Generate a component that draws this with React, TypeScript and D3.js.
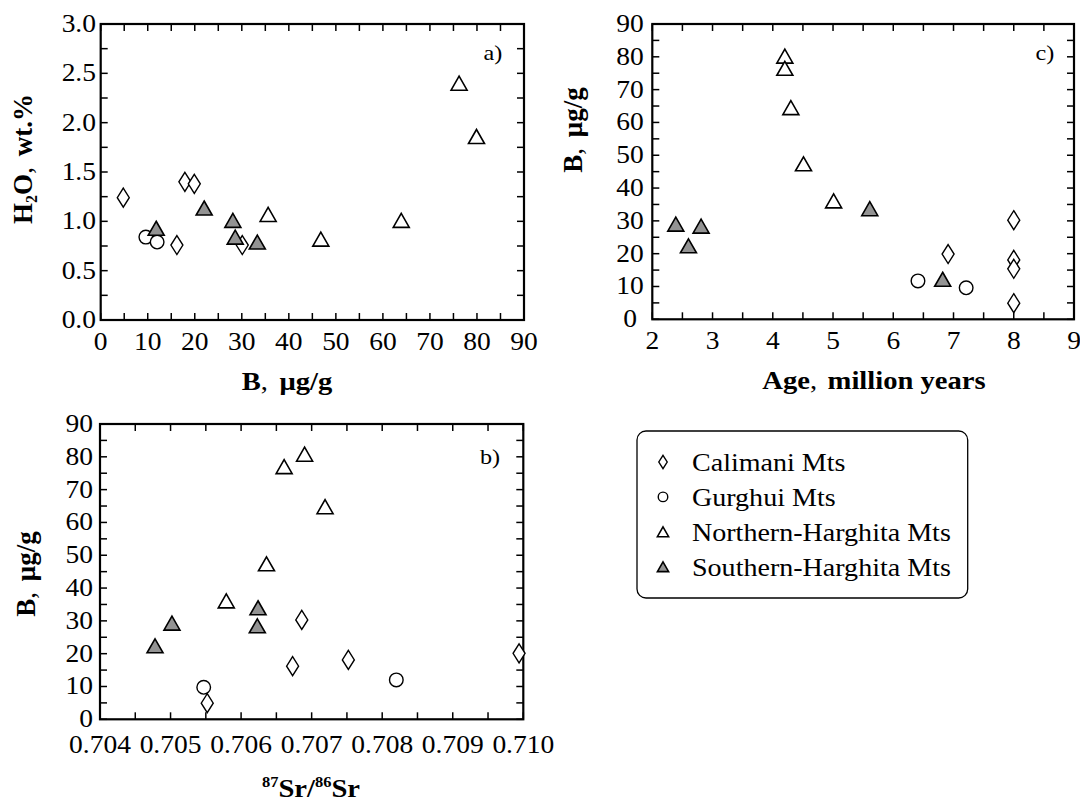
import React from 'react';
import * as d3 from 'd3';

type P = [number, number];

// Panel a) B (µg/g) vs H2O (wt.%)
const aCalimani: P[] = [[4.8, 1.24], [17.9, 1.40], [19.9, 1.38], [16.2, 0.76], [30.1, 0.76]];
const aGurghui: P[] = [[9.6, 0.84], [12.0, 0.79]];
const aNorthern: P[] = [[35.6, 1.07], [46.8, 0.82], [63.9, 1.01], [76.2, 2.40], [79.9, 1.86]];
const aSouthern: P[] = [[11.8, 0.93], [22.0, 1.135], [28.1, 1.01], [28.6, 0.84], [33.3, 0.79]];

// Panel c) Age (million years) vs B (µg/g)
const cCalimani: P[] = [[6.91, 19.9], [8.0, 30.2], [8.0, 18.1], [8.0, 15.4], [8.0, 4.9]];
const cGurghui: P[] = [[6.41, 11.7], [7.21, 9.6]];
const cNorthern: P[] = [[4.2, 80.2], [4.2, 76.5], [4.3, 64.5], [4.51, 47.4], [5.01, 36.1]];
const cSouthern: P[] = [[2.39, 29.0], [2.6, 22.4], [2.81, 28.4], [5.61, 33.7], [6.82, 12.2]];

// Panel b) 87Sr/86Sr vs B (µg/g)
const bCalimani: P[] = [[0.70552, 4.9], [0.70673, 16.2], [0.70686, 30.3], [0.70752, 18.1], [0.70994, 20.1]];
const bGurghui: P[] = [[0.70547, 9.75], [0.7082, 12.0]];
const bNorthern: P[] = [[0.70579, 36.1], [0.70636, 47.4], [0.70661, 77.0], [0.7069, 80.8], [0.70719, 64.8]];
const bSouthern: P[] = [[0.70478, 22.4], [0.70502, 29.3], [0.70624, 34.0], [0.70623, 28.5]];

const legendLabels = ['Calimani Mts', 'Gurghui Mts', 'Northern-Harghita Mts', 'Southern-Harghita Mts'];
const legendKinds = ['diamond', 'circle', 'triangle', 'triangleFilled'];

const FONT = "'Liberation Serif', 'DejaVu Serif', serif";
const SX = 1.1;
const FILL_GRAY = '#939393';

function Marker({ kind, x, y, s = 1 }: { kind: string; x: number; y: number; s?: number }) {
  if (kind === 'diamond') {
    const w = 6 * s, h = 9.5 * s;
    return <path d={`M${x},${y - h}L${x + w},${y}L${x},${y + h}L${x - w},${y}Z`} fill="white" stroke="black" strokeWidth={1.4} />;
  }
  if (kind === 'circle') {
    return <circle cx={x} cy={y} r={6.8 * s} fill="white" stroke="black" strokeWidth={1.4} />;
  }
  const w = 8 * s, h = 7 * s;
  return (
    <path
      d={`M${x},${y - h}L${x + w},${y + h}L${x - w},${y + h}Z`}
      fill={kind === 'triangleFilled' ? FILL_GRAY : 'white'}
      stroke="black"
      strokeWidth={1.6}
      strokeLinejoin="miter"
    />
  );
}

function T({ x, y, anchor = 'middle', size = 25, weight = 'normal', children }: any) {
  return (
    <text
      transform={`translate(${x},${y}) scale(${SX},1)`}
      textAnchor={anchor}
      style={{ fontFamily: FONT, fontSize: size, fontWeight: weight }}
      fill="black"
    >
      {children}
    </text>
  );
}

function range(a: number, b: number, step: number) {
  const n = Math.round((b - a) / step);
  return d3.range(n + 1).map((i) => a + i * step);
}

interface PanelProps {
  x0: number; x1: number; yTop: number; yBot: number;
  xDomain: [number, number]; yDomain: [number, number];
  xMinor: number; xMajor: number; yMinor: number; yMajor: number;
  xFmt: (v: number) => string; yFmt: (v: number) => string;
  xLabelY: number; yLabelX: number; yLabelAnchor: string;
  series: [string, P[]][];
  tag: string; tagX: number; tagY: number;
}

function Panel(p: PanelProps) {
  const xs = d3.scaleLinear().domain(p.xDomain).range([p.x0, p.x1]);
  const ys = d3.scaleLinear().domain(p.yDomain).range([p.yBot, p.yTop]);
  const xMinorTicks = range(p.xDomain[0], p.xDomain[1], p.xMinor);
  const yMinorTicks = range(p.yDomain[0], p.yDomain[1], p.yMinor);
  const xMajorTicks = range(p.xDomain[0], p.xDomain[1], p.xMajor);
  const yMajorTicks = range(p.yDomain[0], p.yDomain[1], p.yMajor);
  const TL = 7;
  return (
    <g>
      {xMinorTicks.map((v, i) => (
        <g key={'xt' + i}>
          <line x1={xs(v)} x2={xs(v)} y1={p.yBot} y2={p.yBot - TL} stroke="black" strokeWidth={1.5} />
          <line x1={xs(v)} x2={xs(v)} y1={p.yTop} y2={p.yTop + TL} stroke="black" strokeWidth={1.5} />
        </g>
      ))}
      {yMinorTicks.map((v, i) => (
        <g key={'yt' + i}>
          <line x1={p.x0} x2={p.x0 + TL} y1={ys(v)} y2={ys(v)} stroke="black" strokeWidth={1.5} />
          <line x1={p.x1} x2={p.x1 - TL} y1={ys(v)} y2={ys(v)} stroke="black" strokeWidth={1.5} />
        </g>
      ))}
      <rect x={p.x0} y={p.yTop} width={p.x1 - p.x0} height={p.yBot - p.yTop} fill="none" stroke="black" strokeWidth={2.2} />
      {xMajorTicks.map((v, i) => (
        <T key={'xl' + i} x={xs(v)} y={p.xLabelY}>{p.xFmt(v)}</T>
      ))}
      {yMajorTicks.map((v, i) => (
        <T key={'yl' + i} x={p.yLabelX} y={ys(v) + 8} anchor={p.yLabelAnchor}>{p.yFmt(v)}</T>
      ))}
      {p.series.map(([kind, pts], si) =>
        pts.map((d, i) => <Marker key={si + '-' + i} kind={kind} x={xs(d[0])} y={ys(d[1])} />)
      )}
      <T x={p.tagX} y={p.tagY} size={22}>{p.tag}</T>
    </g>
  );
}

export default function App() {
  const fmt1 = d3.format('.1f');
  const fmt0 = d3.format('d');
  const fmt3 = d3.format('.3f');
  const rotStyle = { fontFamily: FONT, fontSize: 27, fontWeight: 'bold' as const };
  return (
    <svg width={1080} height={802} style={{ position: 'absolute', left: 0, top: 0, background: 'white' }}>
      <rect x={0} y={0} width={1080} height={802} fill="white" />
      {/* Panel a */}
      <Panel
        x0={100.7} x1={524} yTop={24} yBot={320}
        xDomain={[0, 90]} yDomain={[0, 3]}
        xMinor={5} xMajor={10} yMinor={0.25} yMajor={0.5}
        xFmt={fmt0} yFmt={fmt1}
        xLabelY={350} yLabelX={96} yLabelAnchor="end"
        series={[['diamond', aCalimani], ['circle', aGurghui], ['triangle', aNorthern], ['triangleFilled', aSouthern]]}
        tag="a)" tagX={493} tagY={60}
      />
      {/* Panel c */}
      <Panel
        x0={652.3} x1={1074} yTop={24} yBot={319.3}
        xDomain={[2, 9]} yDomain={[0, 90]}
        xMinor={0.5} xMajor={1} yMinor={5} yMajor={10}
        xFmt={fmt0} yFmt={fmt0}
        xLabelY={349} yLabelX={630} yLabelAnchor="middle"
        series={[['diamond', cCalimani], ['circle', cGurghui], ['triangle', cNorthern], ['triangleFilled', cSouthern]]}
        tag="c)" tagX={1045} tagY={60}
      />
      {/* Panel b */}
      <Panel
        x0={100} x1={523.3} yTop={424} yBot={719.3}
        xDomain={[0.704, 0.71]} yDomain={[0, 90]}
        xMinor={0.0005} xMajor={0.001} yMinor={5} yMajor={10}
        xFmt={fmt3} yFmt={fmt0}
        xLabelY={753} yLabelX={93} yLabelAnchor="end"
        series={[['diamond', bCalimani], ['circle', bGurghui], ['triangle', bNorthern], ['triangleFilled', bSouthern]]}
        tag="b)" tagX={490} tagY={464}
      />

      {/* Axis titles */}
      <T x={287} y={390} size={26} weight="bold">
        B<tspan style={{ fontWeight: 'normal' }}>, </tspan><tspan dx={4}>μg/g</tspan>
      </T>
      <T x={874} y={389} size={26} weight="bold">
        Age<tspan style={{ fontWeight: 'normal' }}>, </tspan><tspan dx={3}>million years</tspan>
      </T>
      <T x={311} y={797} size={26} weight="bold">
        <tspan style={{ fontSize: 15 }} dy={-10}>87</tspan>
        <tspan dy={10}>Sr/</tspan>
        <tspan style={{ fontSize: 15 }} dy={-10}>86</tspan>
        <tspan dy={10}>Sr</tspan>
      </T>
      <text transform={`translate(32,159) rotate(-90)`} textAnchor="middle" style={rotStyle}>
        H<tspan style={{ fontSize: 16 }} dy={5}>2</tspan><tspan dy={-5}>O</tspan><tspan style={{ fontWeight: 'normal' }}>, </tspan><tspan dx={4}>wt.%</tspan>
      </text>
      <text transform={`translate(35,574) rotate(-90)`} textAnchor="middle" style={rotStyle}>
        B<tspan style={{ fontWeight: 'normal' }}>, </tspan><tspan dx={4}>μg/g</tspan>
      </text>
      <text transform={`translate(582,130) rotate(-90)`} textAnchor="middle" style={rotStyle}>
        B<tspan style={{ fontWeight: 'normal' }}>, </tspan><tspan dx={4}>μg/g</tspan>
      </text>

      {/* Legend */}
      <rect x={637} y={431} width={330.7} height={167} rx={9} ry={9} fill="white" stroke="black" strokeWidth={1.3} />
      {legendLabels.map((lab, i) => {
        const cy = 462 + i * 34.9;
        return (
          <g key={lab}>
            <Marker kind={legendKinds[i]} x={663} y={cy} s={0.7} />
            <T x={692} y={cy + 9} anchor="start" size={25.5}>{lab}</T>
          </g>
        );
      })}
    </svg>
  );
}
